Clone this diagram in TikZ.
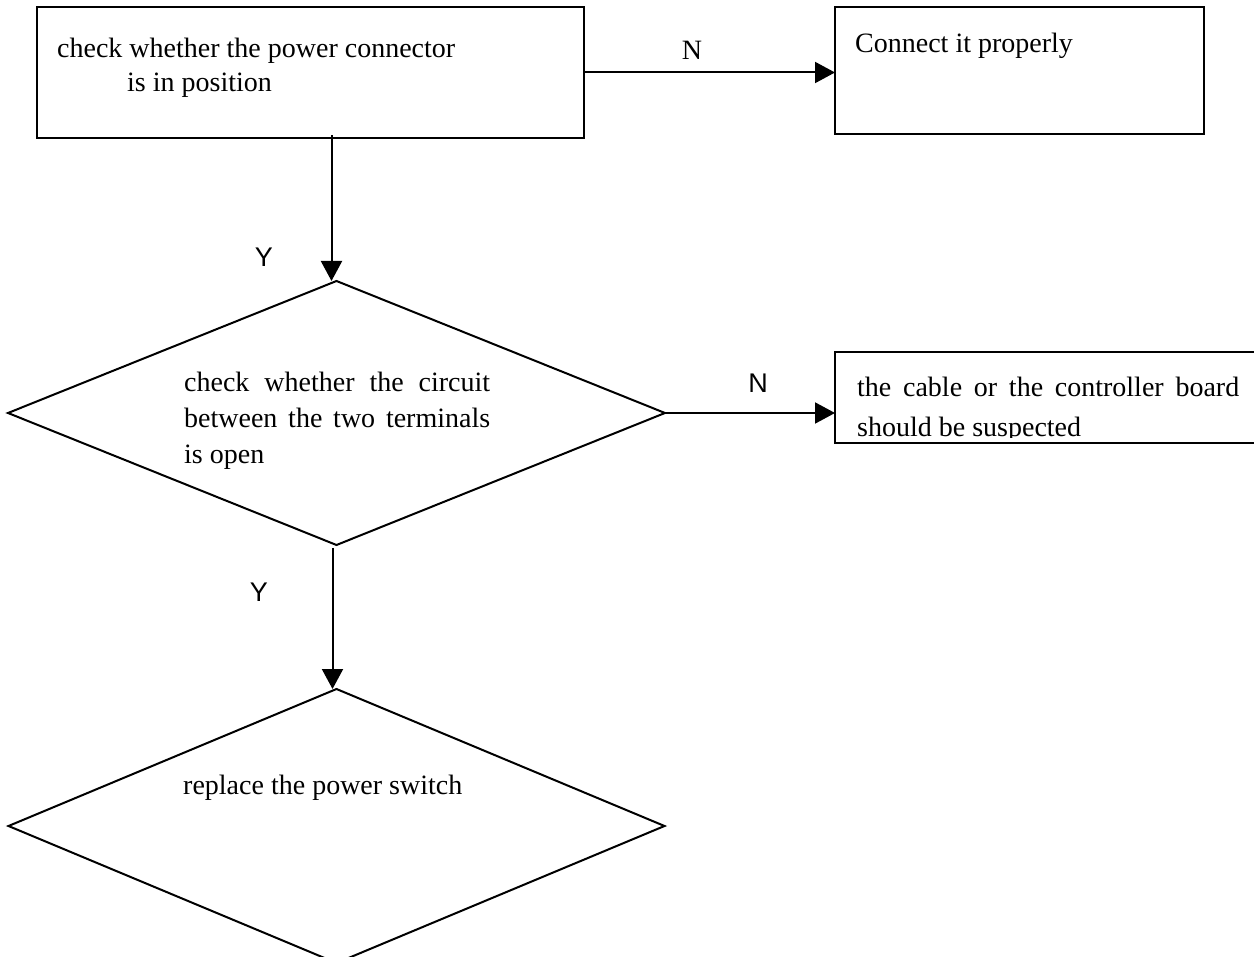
\documentclass[tikz,border=0pt]{standalone}
\usepackage{fontspec}
\setmainfont{Liberation Serif}
\newfontfamily\sansfont{Liberation Sans}
\usetikzlibrary{shapes.geometric,arrows.meta}
\begin{document}
\begin{tikzpicture}[x=1pt,y=-1pt,
  shapebox/.style={draw,line width=2pt,inner sep=0pt,outer sep=0pt},
  decision/.style={shapebox,diamond},
  txt/.style={anchor=base west,inner sep=0pt,font=\fontsize{28}{34}\selectfont},
  serlab/.style={inner sep=0pt,font=\rmfamily\fontsize{28}{34}\selectfont},
  sanslab/.style={inner sep=0pt,font=\sansfont\fontsize{27}{32}\selectfont},
  arr/.style={line width=2pt,-{Triangle[length=20pt,width=21pt]}}]
\useasboundingbox (0,0) rectangle (1254,957);

% shapes
\node[shapebox,minimum width=547pt,minimum height=131pt] (b1) at (310.5,72.5) {};
\node[shapebox,minimum width=369pt,minimum height=127pt] (b2) at (1019.5,70.5) {};
\node[shapebox,minimum width=427pt,minimum height=91pt] (b3) at (1048.5,397.5) {};
\node[decision,minimum width=657pt,minimum height=264pt] (d1) at (336.5,413) {};
\node[decision,minimum width=656pt,minimum height=274pt] (d2) at (336.5,826) {};

% texts
\node[txt] (t1a) at (57,58) {check whether the power connector};
\node[txt] (t1b) at (127,92) {is in position};
\node[txt] (t2) at (855,53) {Connect it properly};
\node[txt] (t3a) at (184,392) {\makebox[306pt][s]{check whether the circuit}};
\node[txt] (t3b) at (184,428) {\makebox[306pt][s]{between the two terminals}};
\node[txt] (t3c) at (184,464) {is open};
\begin{scope}
  \clip (836,353) rectangle (1254,438);
  \node[txt] (t4a) at (857,397) {\makebox[382pt][s]{the cable or the controller board}};
  \node[txt] (t4b) at (857,437) {should be suspected};
\end{scope}
\node[txt] (t5) at (183,794) {replace the power switch};

% connectors
\coordinate (v1) at ([xshift=-5pt]d1.north);
\coordinate (v2) at ([xshift=-4pt]d2.north);
\draw[arr] (b1.east) -- (b1.east -| b2.west);
\draw[arr] ([yshift=3pt]v1 |- b1.south) -- (v1);
\draw[arr] (d1.east) -- (d1.east -| b3.west);
\draw[arr] ([yshift=-3pt]v2 |- d1.south) -- (v2);

% labels
\node[serlab] (n1) at (692,50) {N};
\node[sanslab] (n2) at (758,383) {N};
\node[sanslab] (y1) at (264,257) {Y};
\node[sanslab] (y2) at (259,592) {Y};
\end{tikzpicture}
\end{document}
